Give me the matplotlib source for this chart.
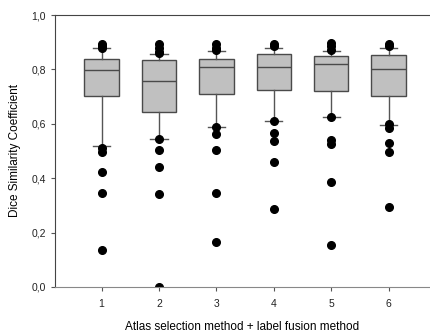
import matplotlib.pyplot as plt
from matplotlib.ticker import FuncFormatter

plt.rcParams['font.family'] = ['Liberation Sans', 'DejaVu Sans']

# Estadisticos (metodos 1..6)
metodos = [1, 2, 3, 4, 5, 6]
q1 = [0.704, 0.645, 0.708, 0.725, 0.720, 0.702]
mediana = [0.796, 0.759, 0.809, 0.808, 0.819, 0.803]
q3 = [0.840, 0.834, 0.838, 0.856, 0.850, 0.852]
bigote_inf = [0.520, 0.545, 0.587, 0.612, 0.624, 0.596]
bigote_sup = [0.878, 0.858, 0.868, 0.880, 0.868, 0.880]
atipicos = [
    [0.895, 0.885, 0.880, 0.510, 0.495, 0.422, 0.347, 0.135],
    [0.895, 0.880, 0.865, 0.860, 0.545, 0.502, 0.441, 0.343, 0.0],
    [0.895, 0.880, 0.870, 0.587, 0.563, 0.505, 0.347, 0.166],
    [0.895, 0.885, 0.612, 0.565, 0.535, 0.459, 0.286],
    [0.897, 0.885, 0.870, 0.624, 0.540, 0.525, 0.386, 0.155],
    [0.895, 0.885, 0.600, 0.585, 0.530, 0.496, 0.293],
]

stats = []
for i in range(len(metodos)):
    stats.append({'med': mediana[i], 'q1': q1[i], 'q3': q3[i],
                  'whislo': bigote_inf[i], 'whishi': bigote_sup[i],
                  'fliers': atipicos[i]})

fig = plt.figure(figsize=(4.3, 3.34), dpi=100)
ax = fig.add_axes([0.128, 0.141, 0.872, 0.814])

ax.bxp(stats, positions=metodos, widths=0.6, patch_artist=True,
       boxprops=dict(facecolor='#c0c0c0', edgecolor='#4a4a4a', linewidth=1.0),
       medianprops=dict(color='#4a4a4a', linewidth=1.0),
       whiskerprops=dict(color='#555555', linewidth=1.0),
       capprops=dict(color='#555555', linewidth=1.0),
       flierprops=dict(marker='o', markerfacecolor='black', markeredgecolor='black',
                       markersize=5.5))

ax.set_xlim(0.19, 6.72)
ax.set_ylim(0, 1.0)
ax.set_yticks([0, 0.2, 0.4, 0.6, 0.8, 1.0])
ax.yaxis.set_major_formatter(FuncFormatter(lambda v, p: f'{v:.1f}'.replace('.', ',')))
ax.set_xticks(metodos)

ax.spines['right'].set_visible(False)
for s in ['left', 'top']:
    ax.spines[s].set_color('#444444')
ax.spines['bottom'].set_color('#888888')
ax.tick_params(axis='both', labelsize=7.5, length=3, color='#555555', labelcolor='#222222')
ax.tick_params(axis='x', pad=6)

ax.set_xlabel('Atlas selection method + label fusion method', fontsize=8.5, labelpad=8.5)
ax.set_ylabel('Dice Similarity Coefficient', fontsize=8.5, labelpad=7.5)

plt.savefig('out.png', dpi=100)
